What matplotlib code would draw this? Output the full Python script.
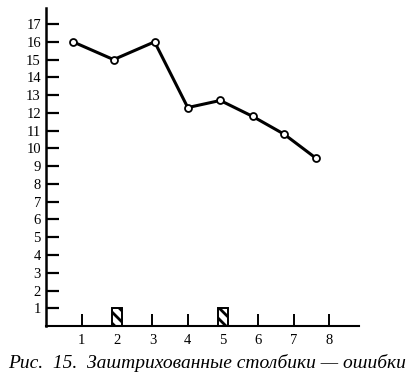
import matplotlib.pyplot as plt

# Values
trial_x = [0.75, 1.9, 3.06, 4.0, 4.92, 5.84, 6.73, 7.63]
trial_y = [16.0, 15.0, 16.0, 12.3, 12.7, 11.8, 10.8, 9.45]
error_x = [2, 5]
error_h = [1, 1]
xticks = [1, 2, 3, 4, 5, 6, 7, 8]
yticks = list(range(1, 18))
caption = "Рис.  15.  Заштрихованные столбики — ошибки"

plt.rcParams['font.family'] = ['Liberation Serif', 'DejaVu Serif']
plt.rcParams['hatch.linewidth'] = 2.0

fig = plt.figure(figsize=(4.14, 3.85), dpi=100)
ax = fig.add_axes([0.1123, 0.153, 0.755, 0.826])

ax.plot(trial_x, trial_y, color="black", lw=2.2, marker="o", ms=5,
        mfc="white", mec="black", mew=1.3, zorder=3)
ax.bar(error_x, error_h, width=0.28, color="white", edgecolor="black",
       hatch="\\\\\\", linewidth=1.4, zorder=2)

ax.set_xlim(0, 8.85)
ax.set_ylim(0, 17.9)
ax.set_xticks(xticks)
ax.set_yticks(yticks)
ax.spines["top"].set_visible(False)
ax.spines["right"].set_visible(False)
ax.spines["left"].set_linewidth(1.8)
ax.spines["bottom"].set_linewidth(1.5)
ax.tick_params(axis="y", direction="in", length=9.5, width=1.6, pad=4, labelsize=10.5)
ax.tick_params(axis="x", direction="in", length=8.5, width=1.4, pad=6, labelsize=10.5)

fig.text(0.5, 0.057, caption, ha="center", va="center", style="italic", fontsize=14)

fig.savefig("out.png", dpi=100)
